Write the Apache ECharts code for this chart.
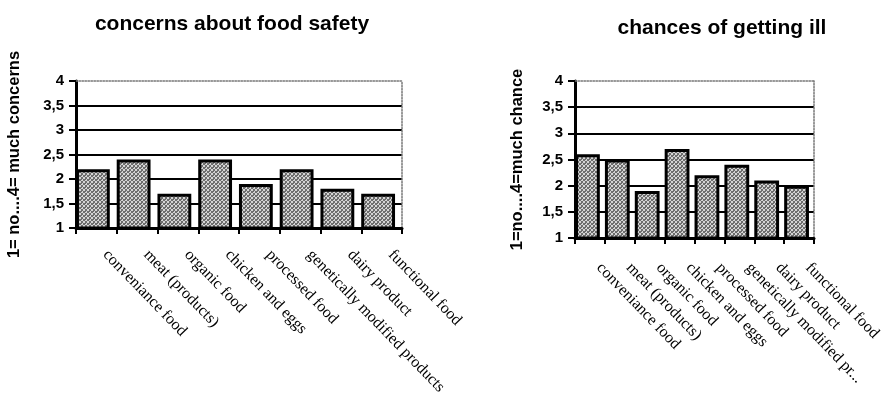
<!DOCTYPE html>
<html>
<head>
<meta charset="utf-8">
<script src="https://cdn.jsdelivr.net/npm/echarts@6/dist/echarts.min.js"></script>
<style>
  html, body { margin: 0; padding: 0; background: #fff; }
  #chart { width: 886px; height: 395px; }
</style>
</head>
<body>
<div id="chart"></div>
<script>
// Food categories shown on both charts
const safetyCategories = [
  'conveniance food', 'meat (products)', 'organic food', 'chicken and eggs',
  'processed food', 'genetically modified products', 'dairy product', 'functional food'
];
const illCategories = [
  'conveniance food', 'meat (products)', 'organic food', 'chicken and eggs',
  'processed food', 'genetically modified pr...', 'dairy product', 'functional food'
];
// Mean scores (1 = no ... 4 = much)
const safetyValues = [2.2, 2.4, 1.7, 2.4, 1.9, 2.2, 1.8, 1.7];
const illValues = [2.6, 2.5, 1.9, 2.7, 2.2, 2.4, 2.1, 2.0];
const titles = ['concerns about food safety', 'chances of getting ill'];
const axisNames = ['1= no....4= much concerns', '1=no....4=much chance'];
const yMin = 1, yMax = 4, yStep = 0.5;

// Stippled grey fill for the bars (fixed dither pattern)
function stipple() {
  const c = document.createElement('canvas');
  c.width = 4; c.height = 4;
  const ctx = c.getContext('2d');
  const dark = [[0,0],[2,1],[1,2],[3,3],[0,3],[2,2],[3,0],[1,1],[1,3]];
  ctx.fillStyle = '#d4d4d4';
  ctx.fillRect(0, 0, 4, 4);
  ctx.fillStyle = '#6e6e6e';
  dark.forEach(([x, y]) => ctx.fillRect(x, y, 1, 1));
  return c;
}
const barFill = { image: stipple(), repeat: 'repeat' };

// Plot areas; bars sit in a twin grid nudged slightly left within each slot
const plots = [
  { left: 76, top: 81, width: 326, height: 147 },
  { left: 575, top: 81, width: 239, height: 157 }
];
const barShift = [3.5, 2.5];
const nameGaps = [53, 49];
const labelMargins = [15, 18];
const titleX = [227, 717];
const titleY = [9, 13];

const fmt = v => String(v).replace('.', ',');
const splitColors = ['#000', '#000', '#000', '#000', '#000', '#000', 'rgba(0,0,0,0)'];

const grids = [], xAxes = [], yAxes = [], series = [];
[safetyCategories, illCategories].forEach((cats, i) => {
  const p = plots[i];
  const g = grids.length;
  grids.push({ left: p.left, top: p.top, width: p.width, height: p.height, outerBoundsMode: 'none' });
  grids.push({ left: p.left - barShift[i], top: p.top, width: p.width, height: p.height, outerBoundsMode: 'none' });

  xAxes.push({
    type: 'category', gridIndex: g, data: cats,
    axisLine: { lineStyle: { color: '#000', width: 3 } },
    axisTick: { show: true, length: 6, lineStyle: { color: '#000', width: 2 } },
    axisLabel: {
      interval: 0, rotate: -46, margin: labelMargins[i], padding: [0, 0, 0, 13],
      fontFamily: 'Liberation Serif', fontSize: 16, color: '#000'
    },
    z: 1
  });
  // dotted frame along the top of the plot area
  xAxes.push({
    type: 'category', gridIndex: g, position: 'top', data: cats,
    axisLine: { lineStyle: { color: '#777', width: 1.5, type: 'dotted' } },
    axisTick: { show: false }, axisLabel: { show: false }
  });
  // hidden axis carrying the bars
  xAxes.push({
    type: 'category', gridIndex: g + 1, data: cats, show: false
  });

  yAxes.push({
    type: 'value', gridIndex: g, min: yMin, max: yMax, interval: yStep,
    name: axisNames[i], nameLocation: 'middle', nameRotate: 90, nameGap: nameGaps[i],
    nameTextStyle: { fontFamily: 'Liberation Sans', fontWeight: 'bold', fontSize: 16.5, color: '#000' },
    axisLine: { show: true, lineStyle: { color: '#000', width: 3 } },
    axisTick: { show: true, length: 7, lineStyle: { color: '#000', width: 2 } },
    axisLabel: {
      margin: 12, formatter: fmt,
      fontFamily: 'Liberation Sans', fontWeight: 'bold', fontSize: 15, color: '#000'
    },
    splitLine: { show: true, lineStyle: { color: splitColors, width: 2 } }
  });
  // dotted frame along the right of the plot area
  yAxes.push({
    type: 'value', gridIndex: g, min: yMin, max: yMax, interval: yStep, position: 'right',
    axisLine: { show: true, lineStyle: { color: '#777', width: 1.5, type: 'dotted' } },
    axisTick: { show: false }, axisLabel: { show: false }, splitLine: { show: false }
  });
  yAxes.push({
    type: 'value', gridIndex: g + 1, min: yMin, max: yMax, interval: yStep, show: false,
    splitLine: { show: false }
  });
});

[safetyValues, illValues].forEach((vals, i) => {
  series.push({
    type: 'bar', xAxisIndex: i * 3 + 2, yAxisIndex: i * 3 + 2, data: vals,
    barCategoryGap: '17%',
    itemStyle: { color: barFill, borderColor: '#000', borderWidth: 3 },
    emphasis: { disabled: true }
  });
});

const chart = echarts.init(document.getElementById('chart'), null, { renderer: 'canvas' });
chart.setOption({
  animation: false,
  backgroundColor: '#fff',
  title: titles.map((t, i) => ({
    text: t, left: titleX[i], top: titleY[i], textAlign: 'center',
    textStyle: { fontFamily: 'Liberation Sans', fontWeight: 'bold', fontSize: 21, color: '#000' }
  })),
  grid: grids,
  xAxis: xAxes,
  yAxis: yAxes,
  series: series
});
</script>
</body>
</html>
